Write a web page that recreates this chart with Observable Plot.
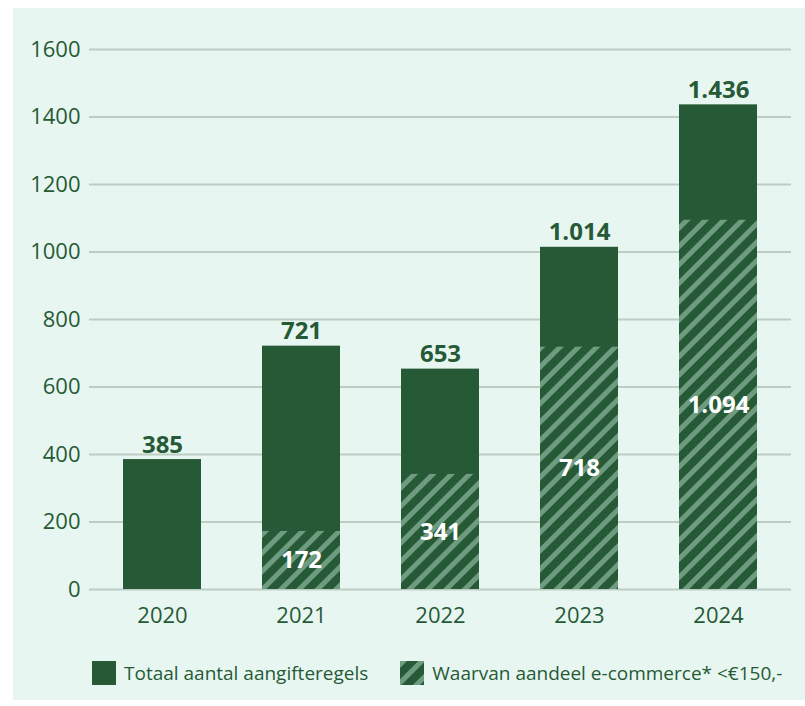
<!DOCTYPE html>
<html>
<head>
<meta charset="utf-8">
<script src="https://cdn.jsdelivr.net/npm/d3@7"></script>
<script src="https://cdn.jsdelivr.net/npm/@observablehq/plot@0.6"></script>
<style>
  html, body { margin: 0; padding: 0; background: #ffffff; }
  #panel {
    position: absolute; left: 13px; top: 8px; width: 792px; height: 692px;
    background: #e8f6f1; font-family: "Open Sans", sans-serif; color: #265a36;
  }
  #legend {
    position: absolute; left: 79px; top: 652px; display: flex; align-items: center;
    font-size: 19px; color: #265a36; white-space: nowrap;
  }
  .item { display: flex; align-items: center; }
  .item + .item { margin-left: 32px; }
  .item svg { margin-right: 8px; flex: none; }
</style>
</head>
<body>
<div id="panel"><div id="chart"></div><div id="legend"></div></div>
<script>
const years = ["2020", "2021", "2022", "2023", "2024"];
const totals = [385, 721, 653, 1014, 1436];
const ecommerce = [null, 172, 341, 718, 1094];
const yTicks = [0, 200, 400, 600, 800, 1000, 1200, 1400, 1600];
const legendLabels = ["Totaal aantal aangifteregels", "Waarvan aandeel e-commerce* <€150,-"];

const dark = "#265a36";
const stripe = "#6f9b80";
const nl = d3.formatLocale({decimal: ",", thousands: ".", grouping: [3], currency: ["€", ""]});
const fmt = nl.format(",d");

const totalData = years.map((y, i) => ({year: y, value: totals[i]}));
const ecoData = years.map((y, i) => ({year: y, value: ecommerce[i]})).filter(d => d.value != null);

const chart = Plot.plot({
  width: 792,
  height: 632,
  marginLeft: 76,
  marginRight: 14,
  marginTop: 41,
  marginBottom: 51,
  style: {background: "transparent", fontFamily: "'Open Sans', sans-serif", color: dark},
  x: {domain: years, paddingInner: 0.44, paddingOuter: 0.244, label: null},
  y: {domain: [0, 1600], label: null},
  marks: [
    Plot.gridY(yTicks, {stroke: "#bccdc3", strokeOpacity: 1, strokeWidth: 2}),
    Plot.axisY(yTicks, {tickSize: 0, tickPadding: 9, fontSize: 22, fill: dark, label: null, tickFormat: d => String(d)}),
    Plot.axisX({tickSize: 0, tickPadding: 18, fontSize: 22, fill: dark, label: null}),
    Plot.barY(totalData, {x: "year", y: "value", fill: dark}),
    Plot.barY(ecoData, {x: "year", y: "value", fill: "url(#hatch)"}),
    Plot.text(totalData, {x: "year", y: "value", text: d => fmt(d.value), dy: -7, lineAnchor: "bottom",
      fontSize: 24, fontWeight: "bold", fill: dark}),
    Plot.text(ecoData, {x: "year", y: d => d.value / 2, text: d => fmt(d.value),
      fontSize: 24, fontWeight: "bold", fill: "white"})
  ]
});

const ns = "http://www.w3.org/2000/svg";
function addPattern(svg, id) {
  const defs = document.createElementNS(ns, "defs");
  defs.innerHTML = `<pattern id="${id}" patternUnits="userSpaceOnUse" width="13" height="13" patternTransform="rotate(45)">
    <rect width="13" height="13" fill="${dark}"></rect>
    <rect x="0" y="0" width="5" height="13" fill="${stripe}"></rect>
  </pattern>`;
  svg.insertBefore(defs, svg.firstChild);
}
addPattern(chart, "hatch");
document.getElementById("chart").appendChild(chart);

const legend = document.getElementById("legend");
legendLabels.forEach((lab, i) => {
  const item = document.createElement("div");
  item.className = "item";
  const sw = document.createElementNS(ns, "svg");
  sw.setAttribute("width", 24); sw.setAttribute("height", 24);
  if (i === 1) addPattern(sw, "hatchLegend");
  const r = document.createElementNS(ns, "rect");
  r.setAttribute("width", 24); r.setAttribute("height", 24);
  r.setAttribute("fill", i === 0 ? dark : "url(#hatchLegend)");
  sw.appendChild(r);
  item.appendChild(sw);
  const t = document.createElement("span");
  t.textContent = lab;
  item.appendChild(t);
  legend.appendChild(item);
});
</script>
</body>
</html>
